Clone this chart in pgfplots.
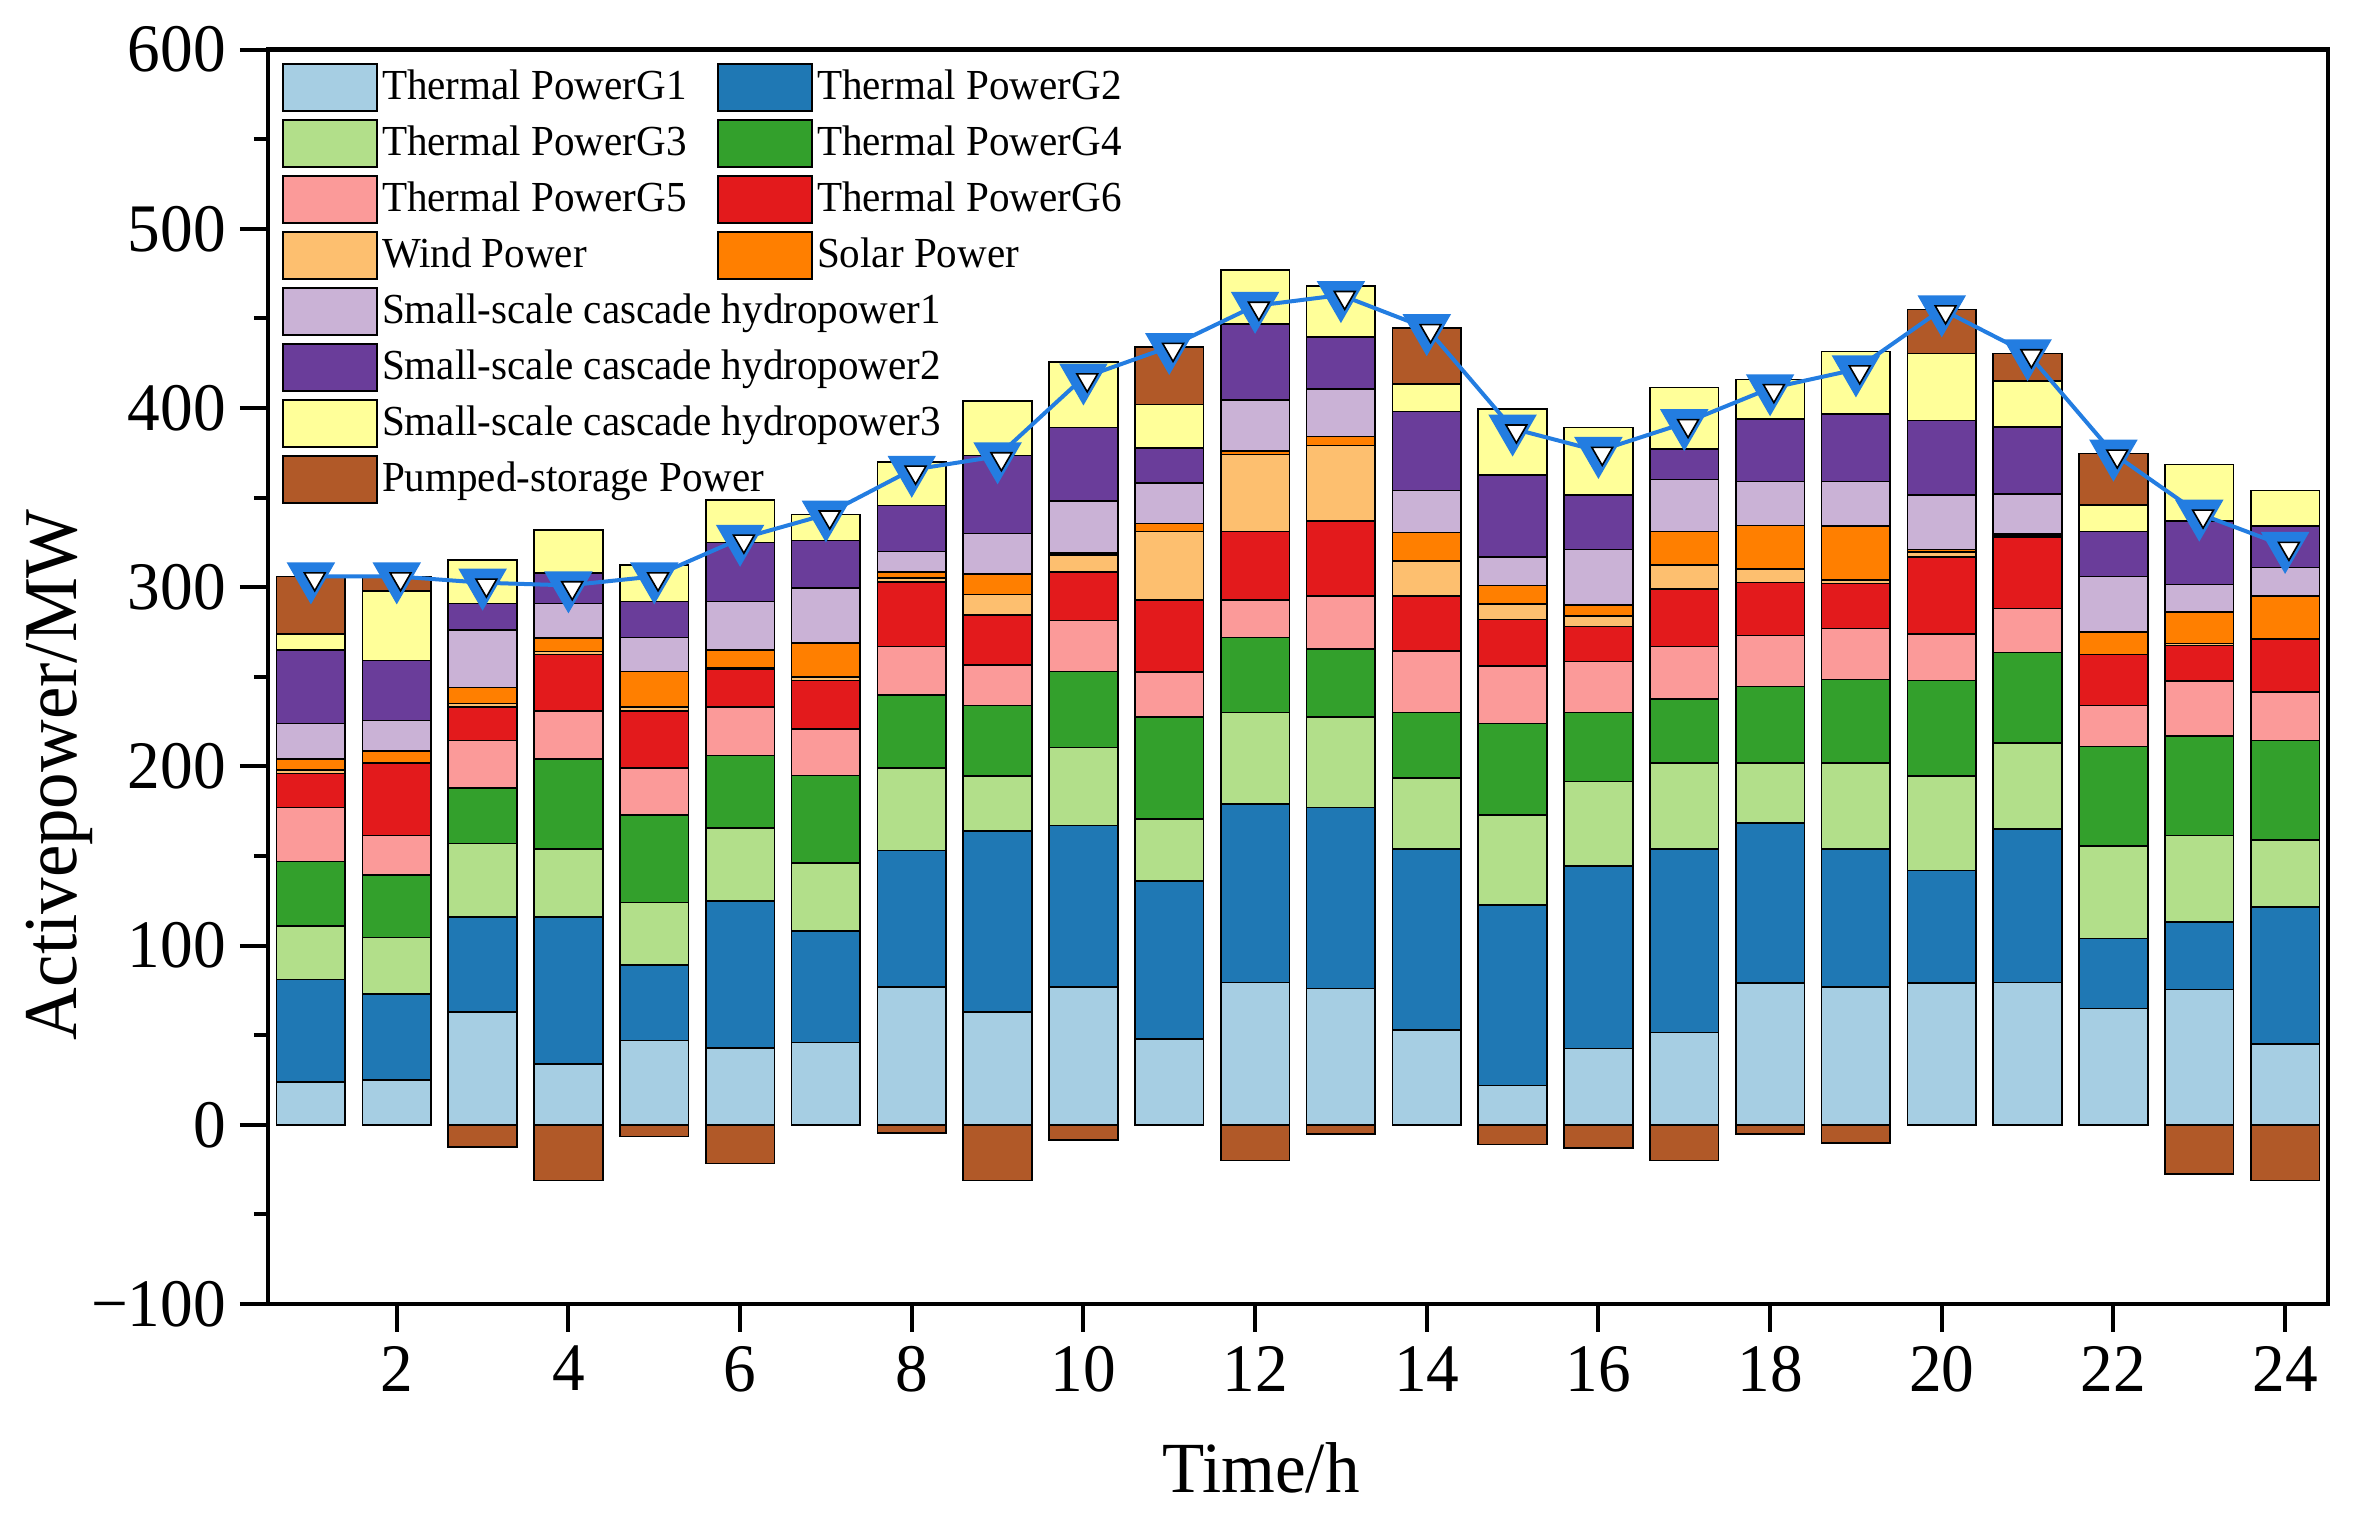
\documentclass[border=0pt]{standalone}
\usepackage{fontspec}
\setmainfont{Liberation Serif}[FakeStretch=0.96]
\usepackage{pgfplots}
\usepackage{pgfplotstable}
\pgfplotsset{compat=1.18}

\definecolor{cG1}{HTML}{A6CEE3}
\definecolor{cG2}{HTML}{1F78B4}
\definecolor{cG3}{HTML}{B2DF8A}
\definecolor{cG4}{HTML}{33A02C}
\definecolor{cG5}{HTML}{FB9A99}
\definecolor{cG6}{HTML}{E31A1C}
\definecolor{cW}{HTML}{FDBF6F}
\definecolor{cS}{HTML}{FF7F00}
\definecolor{cH1}{HTML}{CAB2D6}
\definecolor{cH2}{HTML}{6A3D9A}
\definecolor{cH3}{HTML}{FFFF99}
\definecolor{cPS}{HTML}{B15928}
\definecolor{lineblue}{RGB}{35,125,225}

% hourly dispatch (MW); PSp = pumped storage generating, PSn = pumping, L = load line
\pgfplotstableread{
h  G1   G2    G3   G4   G5   G6   W    S    H1   H2   H3   PSp  PSn   L
1  24   57    30   36   30   19   2    6    20   41   9    32   0     306
2  25   48    31.5 35   22   40.5 0    6.5  17   33.5 39   8    0     306
3  63   53    41   31   26.5 18.5 2    9    32   15   24   0    -12.5 302.5
4  34   82    38   50   27   31.5 1.5  7.5  19.5 17   24   0    -31   301
5  47   42    35   49   26   32   2    20   19   20   20.5 0    -6.5  306
6  43   82    40.5 40.5 27   21   1    10   27   33   23.5 0    -21.5 327
7  46   62    38   49   26   27   2    19   30.5 26.5 14.5 0    0     340.5
8  77   76    46   41   27   36   2    3.5  11.5 25.5 24.5 0    -4.5  365.5
9  63   101   30.5 39.5 22.5 28   11.5 11.5 22.5 43.5 30.5 0    -31   373
10 77   90    43.5 42.5 28.5 27   9.5  1    29   41   36.5 0    -8.5  417
11 48   88    34.5 57   25   40.5 38   4.5  22.5 19.5 24.5 32   0     434
12 79.5 99.5  51   42   21   38   43   2    28.5 42.5 30   0    -20   457
13 76   101   50.5 38   29.5 42   42   5    26.5 29   28.5 0    -5    463
14 53   101   39.5 36.5 34.5 30.5 19.5 16   23.5 44   15.5 31   0     444.5
15 22   100.5 50.5 51   32   26   8.5  10.5 16   45.5 37   0    -11   388.5
16 42.5 102   47   38.5 28.5 19.5 6    6    31   30.5 37.5 0    -13   376
17 51.5 102.5 48   35.5 29.5 32   13.5 18.5 29   17   34.5 0    -20   391.5
18 79   89.5  33.5 42.5 28.5 29.5 7.5  24.5 24.5 35   22   0    -5    411
19 77   77    48   46.5 28.5 25   2    30   25   37.5 35   0    -10   421.5
20 79   63    52.5 53.5 26   43   2.5  1.5  30.5 41.5 37.5 24.5 0     455
21 79.5 85.5  48   50.5 24.5 40   1    1    22   37.5 25.5 15.5 0     430.5
22 65   39    51.5 55.5 23   28.5 0    12.5 31   25   15   28.5 0     374.5
23 75.5 37.5  48.5 55.5 30.5 20   1    17.5 15.5 35.5 31.5 0    -27.5 341
24 45   76.5  37.5 55.5 27   29.5 0    24   16   23   20   0    -31   323
}\dispatch

\pgfplotsset{
  common/.style={
    scale only axis, width=515pt, height=313.6pt,
    xmin=0.5, xmax=24.5, ymin=-100, ymax=600,
  },
  seg/.style={fill=#1, draw=black, line width=0.4pt},
}

\begin{document}
\begin{tikzpicture}
\begin{axis}[
  common,
  ybar stacked, bar width=0.8,
  xtick={2,4,...,24},
  ytick={-100,0,...,600},
  yticklabels={−100,0,100,200,300,400,500,600},
  minor y tick num=1,
  tick align=outside, tick pos=left,
  major tick length=7pt, minor tick length=3.5pt,
  every tick/.style={black, line width=1pt},
  axis line style={line width=1.2pt},
  ticklabel style={font=\fontsize{17}{18}\selectfont},
  /pgf/number format/assume math mode=true,
  xlabel={Time/h}, ylabel={Activepower/MW},
  xlabel style={font=\fontsize{18}{20}\selectfont, at={(axis description cs:0.482,-0.15)}, anchor=base},
  ylabel style={font=\fontsize{19}{21}\selectfont, at={(axis description cs:-0.0845,0.422)}, anchor=south, inner sep=0pt},
  legend columns=2,
  legend cell align=left,
  legend style={at={(0,1)}, anchor=north west, xshift=3.2pt, yshift=-3.1pt,
    draw=none, fill=none, inner sep=0pt,
    font=\fontsize{10.7}{12}\selectfont,
    nodes={inner sep=1pt}, row sep=1.6pt,
    /tikz/every even column/.append style={column sep=6.5pt}},
  legend image code/.code={\draw[#1,line width=0.6pt] (0pt,-5.9pt) rectangle (23.5pt,5.9pt);},
]
\addplot[seg=cG1] table[x=h,y=G1] {\dispatch}; \addlegendentry{Thermal PowerG1}
\addplot[seg=cG2] table[x=h,y=G2] {\dispatch}; \addlegendentry{Thermal PowerG2}
\addplot[seg=cG3] table[x=h,y=G3] {\dispatch}; \addlegendentry{Thermal PowerG3}
\addplot[seg=cG4] table[x=h,y=G4] {\dispatch}; \addlegendentry{Thermal PowerG4}
\addplot[seg=cG5] table[x=h,y=G5] {\dispatch}; \addlegendentry{Thermal PowerG5}
\addplot[seg=cG6] table[x=h,y=G6] {\dispatch}; \addlegendentry{Thermal PowerG6}
\addplot[seg=cW]  table[x=h,y=W]  {\dispatch}; \addlegendentry{Wind Power}
\addplot[seg=cS]  table[x=h,y=S]  {\dispatch}; \addlegendentry{Solar Power}
\addplot[seg=cH1] table[x=h,y=H1] {\dispatch}; \addlegendentry{\makebox[0pt][l]{Small-scale cascade hydropower1}}
\addlegendimage{empty legend}\addlegendentry{}
\addplot[seg=cH2] table[x=h,y=H2] {\dispatch}; \addlegendentry{\makebox[0pt][l]{Small-scale cascade hydropower2}}
\addlegendimage{empty legend}\addlegendentry{}
\addplot[seg=cH3] table[x=h,y=H3] {\dispatch}; \addlegendentry{\makebox[0pt][l]{Small-scale cascade hydropower3}}
\addlegendimage{empty legend}\addlegendentry{}
\addplot[seg=cPS] table[x=h,y=PSp] {\dispatch}; \addlegendentry{\makebox[0pt][l]{Pumped-storage Power}}
\end{axis}

% pumping (negative) bars and the load line on an overlaid axis
\begin{axis}[common, hide axis]
\addplot[ybar, bar width=0.8, bar shift=0pt, seg=cPS] table[x=h,y=PSn] {\dispatch};
\addplot[lineblue, line width=1pt, mark=triangle*, mark size=6pt,
  mark options={rotate=180, fill=lineblue, draw=lineblue}] table[x=h,y=L] {\dispatch};
\addplot[only marks, mark=triangle*, mark size=6pt,
  mark options={rotate=180, fill=white, draw=none, scale=0.5, xshift=-1.9pt, yshift=1.2pt}]
  table[x=h,y=L] {\dispatch};
\end{axis}

\pgfresetboundingbox
\path[use as bounding box] (-67pt,-53pt) rectangle (521.5pt,326pt);
\end{tikzpicture}
\end{document}
